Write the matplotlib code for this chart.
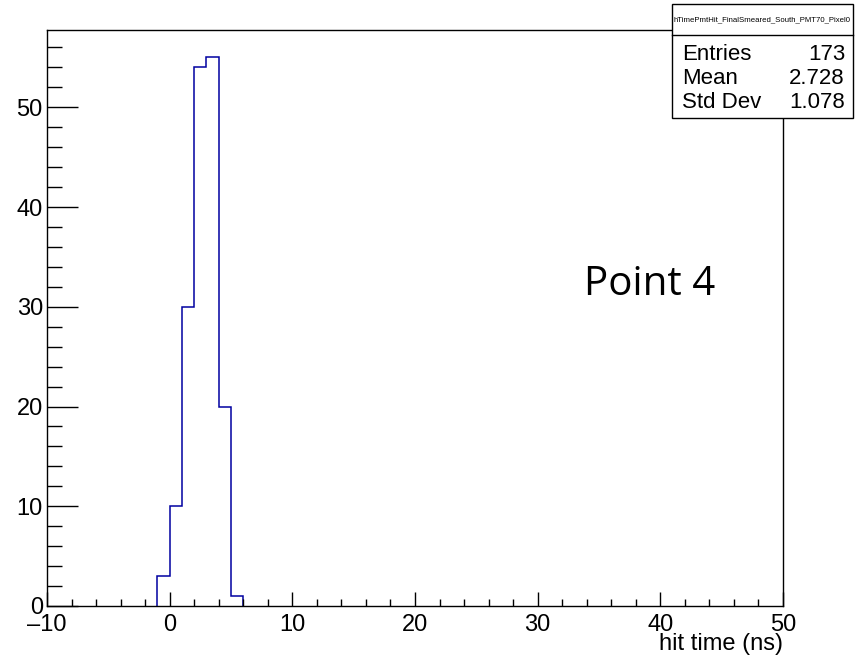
import matplotlib.pyplot as plt
import numpy as np
from matplotlib.ticker import MultipleLocator

# histogram contents (1 ns bins)
bin_edges = [-1, 0, 1, 2, 3, 4, 5, 6]
counts = [3, 10, 30, 54, 55, 20, 1]

hist_name = "hTimePmtHit_FinalSmeared_South_PMT70_Pixel0"
stat_labels = ["Entries", "Mean", "Std Dev"]
stat_values = ["173", "2.728", "1.078"]

plt.rcParams["font.family"] = ["Liberation Sans", "DejaVu Sans"]

W, H = 856, 657
fig = plt.figure(figsize=(W / 100, H / 100), dpi=100)
ax = fig.add_axes([47 / W, 1 - 606 / H, (783 - 47) / W, (606 - 30) / H])

ax.stairs(counts, bin_edges, color="#0000a0", linewidth=1.1)

ax.set_xlim(-10, 50)
ax.set_ylim(0, max(counts) * 1.05)
ax.xaxis.set_major_locator(MultipleLocator(10))
ax.xaxis.set_minor_locator(MultipleLocator(2))
ax.yaxis.set_major_locator(MultipleLocator(10))
ax.yaxis.set_minor_locator(MultipleLocator(2))
ax.tick_params(which="both", direction="in", top=False, right=False,
               labelsize=17, width=1, pad=3)
ax.tick_params(axis="x", which="major", length=10, pad=6)
ax.tick_params(axis="x", which="minor", length=5)
ax.tick_params(axis="y", which="major", length=22)
ax.tick_params(axis="y", which="minor", length=11)
ax.set_xticks(np.arange(-10, 51, 10))
ax.set_xticklabels(["\u201310", "0", "10", "20", "30", "40", "50"])
for sp in ax.spines.values():
    sp.set_linewidth(1)

# axis title, placed like ROOT (right-aligned under the axis end)
fig.text(783 / W, 1 - 644 / H, "hit time (ns)", fontsize=17,
         ha="right", va="center")

fig.text(650 / W, 1 - 285 / H, "Point 4", fontsize=29,
         family="Open Sans", ha="center", va="center")

# stats box
bx0, bx1 = 672 / W, 853 / W
by_top, by_title, by_bot = 1 - 4 / H, 1 - 35 / H, 1 - 118 / H
box = plt.Rectangle((bx0, by_bot), bx1 - bx0, by_top - by_bot,
                    transform=fig.transFigure, fill=True, facecolor="white",
                    edgecolor="black", linewidth=1, zorder=5)
fig.patches.append(box)
fig.add_artist(plt.Line2D([bx0, bx1], [by_title, by_title],
                          transform=fig.transFigure, color="black", linewidth=1, zorder=6))
fig.text((bx0 + bx1) / 2, (by_top + by_title) / 2, hist_name, fontsize=5.6,
         ha="center", va="center", zorder=7)
row_y = [55, 79, 103]
for yp, lab, val in zip(row_y, stat_labels, stat_values):
    yc = 1 - yp / H
    fig.text(bx0 + 10 / W, yc, lab, fontsize=16, ha="left", va="center", zorder=7)
    fig.text(bx1 - 8 / W, yc, val, fontsize=16, ha="right", va="center", zorder=7)

fig.savefig("out.png", dpi=100)
